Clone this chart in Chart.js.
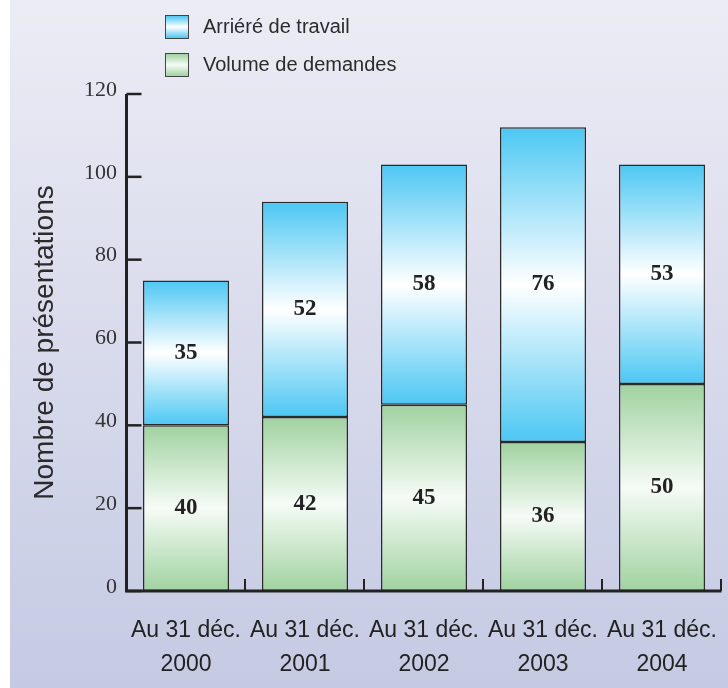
<!DOCTYPE html>
<html>
<head>
<meta charset="utf-8">
<script src="https://cdn.jsdelivr.net/npm/chart.js@4/dist/chart.umd.min.js"></script>
<style>
  html, body { margin: 0; padding: 0; background: #fff; }
  #panel {
    position: absolute; left: 10px; top: 0; width: 718px; height: 688px;
    background: linear-gradient(to bottom, #ececf5 0%, #c5cae3 100%);
  }
  #chartBox { position: absolute; left: 0; top: 0; width: 718px; height: 688px; }
  #legend { position: absolute; left: 155px; top: 14px; font-family: 'Liberation Sans', Arial, sans-serif; font-size: 20px; color: #2b2b2b; }
  .legend-item { display: flex; align-items: center; height: 25px; margin-bottom: 13px; }
  .legend-box { width: 22px; height: 22px; border: 1.5px solid #444; margin-right: 14px; }
</style>
</head>
<body>
<div id="panel">
  <div id="chartBox"><canvas id="chart"></canvas></div>
  <div id="legend"></div>
</div>
<script>
'use strict';

// ─── Data ─────────────────────────────────────────────────────────────────────
const categories = [
  ['Au 31 déc.', '2000'],
  ['Au 31 déc.', '2001'],
  ['Au 31 déc.', '2002'],
  ['Au 31 déc.', '2003'],
  ['Au 31 déc.', '2004'],
];
const volume = [40, 42, 45, 36, 50];   // Volume de demandes
const backlog = [35, 52, 58, 76, 53];  // Arriéré de travail
const yTicks = [0, 20, 40, 60, 80, 100, 120];

const BLUE = '#4cc7f3';
const GREEN = '#a0d2a0';
const INK = '#222';

// ─── Helpers ──────────────────────────────────────────────────────────────────
function segmentGradient(ctx, edge, mid) {
  const chart = ctx.chart;
  if (!chart.chartArea || ctx.type !== 'data') return edge;
  const y = chart.scales.y;
  const i = ctx.dataIndex;
  const base = ctx.datasetIndex === 0 ? 0 : volume[i];
  const top = ctx.datasetIndex === 0 ? volume[i] : volume[i] + backlog[i];
  const g = chart.ctx.createLinearGradient(0, y.getPixelForValue(top), 0, y.getPixelForValue(base));
  g.addColorStop(0, edge);
  g.addColorStop(0.5, mid);
  g.addColorStop(1, edge);
  return g;
}

// axis lines with inward ticks
const axesPlugin = {
  id: 'axes',
  afterDatasetsDraw(chart) {
    const { ctx, chartArea: a, scales } = chart;
    ctx.save();
    ctx.strokeStyle = INK;
    ctx.lineWidth = 3;
    ctx.beginPath();
    ctx.moveTo(a.left, a.top);
    ctx.lineTo(a.left, a.bottom);
    ctx.lineTo(a.right, a.bottom);
    ctx.stroke();
    ctx.lineWidth = 2.5;
    yTicks.forEach(v => {
      const py = scales.y.getPixelForValue(v);
      ctx.beginPath();
      ctx.moveTo(a.left, py);
      ctx.lineTo(a.left + 15, py);
      ctx.stroke();
    });
    const n = categories.length;
    const step = (a.right - a.left) / n;
    ctx.lineWidth = 2;
    for (let i = 1; i <= n; i++) {
      const px = Math.round(a.left + i * step) - 1;
      ctx.beginPath();
      ctx.moveTo(px, a.bottom);
      ctx.lineTo(px, a.bottom - 12);
      ctx.stroke();
    }
    ctx.restore();
  },
};

// value labels centred in each segment
const valueLabels = {
  id: 'valueLabels',
  afterDatasetsDraw(chart) {
    const { ctx } = chart;
    ctx.save();
    ctx.font = 'bold 23px "Liberation Serif", "Times New Roman", serif';
    ctx.fillStyle = INK;
    ctx.textAlign = 'center';
    ctx.textBaseline = 'middle';
    chart.data.datasets.forEach((ds, di) => {
      chart.getDatasetMeta(di).data.forEach((bar, i) => {
        ctx.fillText(String(ds.data[i]), bar.x, (bar.y + bar.base) / 2);
      });
    });
    ctx.restore();
  },
};

// ─── Chart ────────────────────────────────────────────────────────────────────
const chart = new Chart(document.getElementById('chart'), {
  type: 'bar',
  data: {
    labels: categories,
    datasets: [
      {
        label: 'Volume de demandes',
        data: volume,
        backgroundColor: ctx => segmentGradient(ctx, GREEN, '#f6fbf6'),
        borderColor: '#2a2a2a',
        borderWidth: 1.5,
        borderSkipped: false,
        barPercentage: 0.723,
        categoryPercentage: 1,
      },
      {
        label: 'Arriéré de travail',
        data: backlog,
        backgroundColor: ctx => segmentGradient(ctx, BLUE, '#ffffff'),
        borderColor: '#2a2a2a',
        borderWidth: 1.5,
        borderSkipped: false,
        barPercentage: 0.723,
        categoryPercentage: 1,
      },
    ],
  },
  options: {
    responsive: true,
    maintainAspectRatio: false,
    animation: false,
    layout: { padding: { top: 94, right: 6.5, bottom: 0, left: 0 } },
    plugins: {
      legend: { display: false },
      tooltip: { enabled: false },
    },
    scales: {
      x: {
        stacked: true,
        grid: { display: false, drawTicks: false },
        border: { display: false },
        ticks: {
          color: INK,
          padding: 23,
          maxRotation: 0,
          font: { family: '"Liberation Sans", Arial, sans-serif', size: 23, lineHeight: 1.48 },
        },
        afterFit: s => { s.height = 97; s.paddingLeft = 0; s.paddingRight = 0; },
      },
      y: {
        stacked: true,
        min: 0,
        max: 120,
        grid: { display: false, drawTicks: false },
        border: { display: false },
        ticks: {
          stepSize: 20,
          color: '#333',
          padding: 9.5,
          labelOffset: -4,
          font: { family: '"Liberation Serif", "Times New Roman", serif', size: 22 },
        },
        title: {
          display: true,
          text: 'Nombre de présentations',
          color: '#2b2b2b',
          padding: { top: 18, bottom: 0 },
          font: { family: '"Liberation Sans", Arial, sans-serif', size: 28 },
        },
        afterFit: s => { s.width = 116.5; s.paddingTop = 0; s.paddingBottom = 0; },
      },
    },
  },
  plugins: [axesPlugin, valueLabels],
});

// ─── Legend ───────────────────────────────────────────────────────────────────
const legendColors = [[GREEN, '#f6fbf6'], [BLUE, '#ffffff']];
document.getElementById('legend').innerHTML = chart.data.datasets
  .map((ds, i) => ({ label: ds.label, c: legendColors[i] }))
  .reverse()
  .map(it => `
    <div class="legend-item">
      <div class="legend-box" style="background:linear-gradient(to bottom, ${it.c[0]}, ${it.c[1]} 50%, ${it.c[0]})"></div>
      <span>${it.label}</span>
    </div>`).join('');
</script>
</body>
</html>
